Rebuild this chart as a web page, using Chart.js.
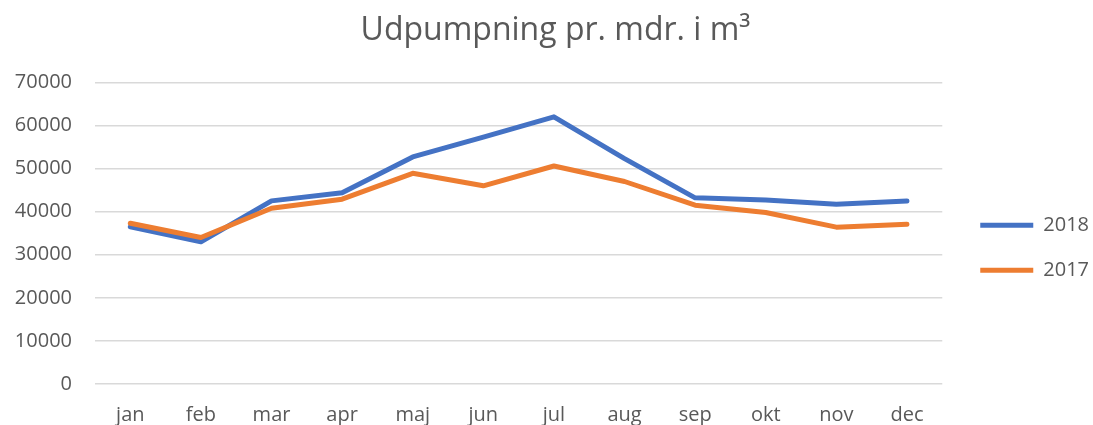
<!DOCTYPE html>
<html>
<head>
<meta charset="utf-8">
<script src="https://cdn.jsdelivr.net/npm/chart.js@4.4.0/dist/chart.umd.min.js"></script>
<style>
  html, body { margin: 0; padding: 0; background: #ffffff; }
  #wrap { width: 1093px; height: 425px; position: relative; }
</style>
</head>
<body>
<div id="wrap"><canvas id="c"></canvas></div>
<script>
const chartTitle = 'Udpumpning pr. mdr. i m³';
const months = ['jan', 'feb', 'mar', 'apr', 'maj', 'jun', 'jul', 'aug', 'sep', 'okt', 'nov', 'dec'];
const seriesNames = ['2018', '2017'];
const values2018 = [36500, 33000, 42500, 44400, 52700, 57300, 62000, 52300, 43200, 42700, 41700, 42500];
const values2017 = [37300, 34000, 40800, 42900, 48900, 46000, 50600, 47000, 41500, 39800, 36400, 37100];
const yTicks = [0, 10000, 20000, 30000, 40000, 50000, 60000, 70000];

const textColor = '#595959';
const fontFamily = '"Open Sans", "Noto Sans", sans-serif';

new Chart(document.getElementById('c'), {
  type: 'line',
  data: {
    labels: months,
    datasets: [
      {
        label: seriesNames[0],
        data: values2018,
        borderColor: '#4472C4',
        backgroundColor: '#4472C4',
        borderWidth: 5,
        borderCapStyle: 'round',
        borderJoinStyle: 'round',
        pointRadius: 0,
        tension: 0,
        order: 2
      },
      {
        label: seriesNames[1],
        data: values2017,
        borderColor: '#ED7D31',
        backgroundColor: '#ED7D31',
        borderWidth: 5,
        borderCapStyle: 'round',
        borderJoinStyle: 'round',
        pointRadius: 0,
        tension: 0,
        order: 1
      }
    ]
  },
  options: {
    responsive: true,
    maintainAspectRatio: false,
    animation: false,
    layout: { padding: { left: 12, right: -6, top: 0, bottom: 0 } },
    plugins: {
      tooltip: { enabled: false },
      title: {
        display: true,
        text: chartTitle,
        color: textColor,
        font: { family: fontFamily, size: 32, weight: 'normal', lineHeight: 1.2 },
        padding: { top: 12, bottom: 32 }
      },
      legend: {
        position: 'right',
        fullSize: false,
        title: { display: true, text: '', font: { size: 1, lineHeight: 1 }, padding: { top: 28, bottom: 0 } },
        labels: {
          color: textColor,
          font: { family: fontFamily, size: 20 },
          usePointStyle: true,
          pointStyle: 'line',
          pointStyleWidth: 53,
          padding: 25,
          sort: (a, b) => a.datasetIndex - b.datasetIndex
        }
      }
    },
    scales: {
      x: {
        type: 'category',
        offset: true,
        grid: { display: false, drawTicks: false },
        border: { display: false },
        ticks: {
          color: textColor,
          font: { family: fontFamily, size: 20, lineHeight: 1.2 },
          padding: 19,
          maxRotation: 0,
          autoSkip: false
        },
        afterFit: (s) => { s.height = 41; }
      },
      y: {
        min: 0,
        max: 70000,
        position: 'left',
        grid: { color: '#d9d9d9', lineWidth: 1.4, drawTicks: false },
        border: { display: false },
        afterBuildTicks: (s) => { s.ticks = yTicks.map(v => ({ value: v })); },
        ticks: {
          color: textColor,
          font: { family: fontFamily, size: 20 },
          padding: 23,
          callback: (v) => String(v)
        },
        afterFit: (s) => { s.width = 83; }
      },
      yRightSpacer: {
        type: 'linear',
        position: 'right',
        display: true,
        grid: { display: false, drawTicks: false },
        border: { display: false },
        ticks: { display: false },
        afterFit: (s) => { s.width = 13; }
      }
    }
  }
});
</script>
</body>
</html>
